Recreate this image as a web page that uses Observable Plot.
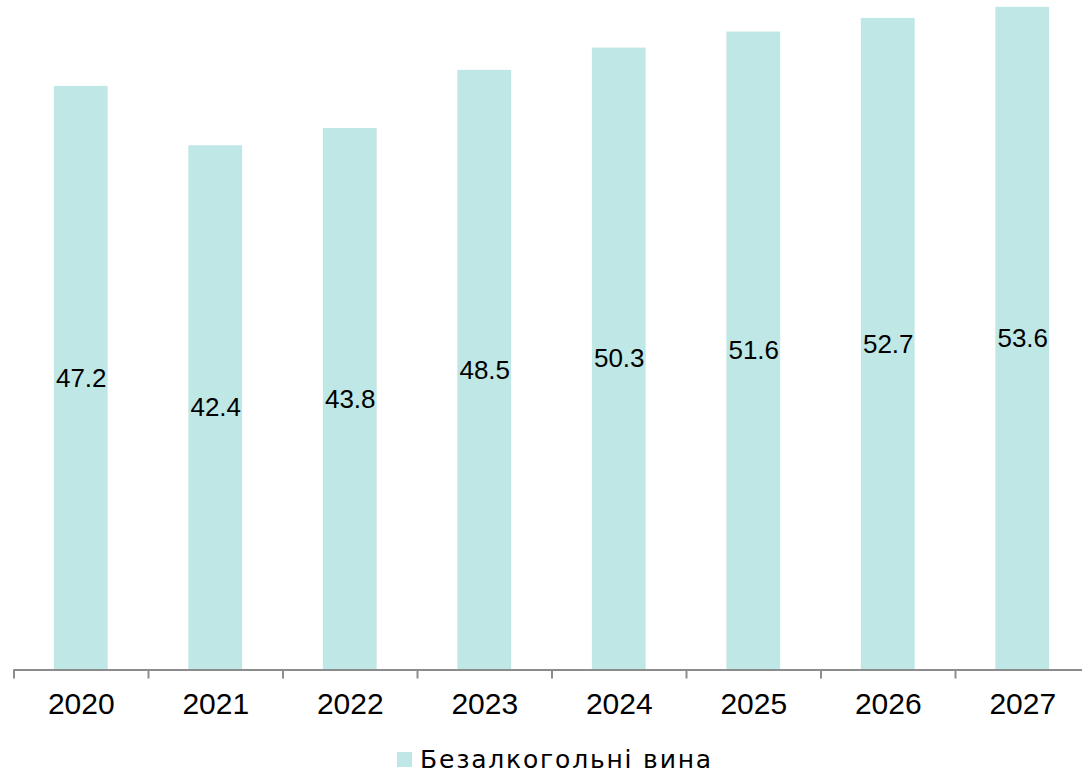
<!DOCTYPE html>
<html>
<head>
<meta charset="utf-8">
<script src="https://cdn.jsdelivr.net/npm/d3@7"></script>
<script src="https://cdn.jsdelivr.net/npm/@observablehq/plot@0.6"></script>
<style>
  html, body { margin: 0; padding: 0; background: #fff; }
  body { width: 1082px; height: 774px; overflow: hidden; font-family: "Liberation Sans", Arial, sans-serif; }
  #legend { height: 48px; display: flex; align-items: center; padding-left: 397px; color: #111; }
  #legend .sw { width: 15px; height: 15px; background: #bfe7e6; margin-right: 8px; flex: none; }
  #legend .lab { font-family: "DejaVu Sans", sans-serif; font-size: 25px; letter-spacing: 1.8px; white-space: nowrap; color: #000; }
</style>
</head>
<body>
<div id="chart"></div>
<div id="legend"><span class="sw"></span><span class="lab" id="legendLabel"></span></div>
<script>
const years = ["2020", "2021", "2022", "2023", "2024", "2025", "2026", "2027"];
const values = [47.2, 42.4, 43.8, 48.5, 50.3, 51.6, 52.7, 53.6];
const seriesName = "Безалкогольні вина";

const data = years.map((y, i) => ({year: y, value: values[i]}));
document.getElementById("legendLabel").textContent = seriesName;

const W = 1082, H = 735;
const xRange = [13.5, 1089.5];
const step = (xRange[1] - xRange[0]) / years.length;
const barColor = "#bfe7e6";
const axisColor = "#8c8c8c";

const chart = Plot.plot({
  width: W,
  height: H,
  marginTop: 0,
  marginLeft: 13.5,
  marginRight: 0,
  marginBottom: 65.5,
  style: {fontFamily: "'Liberation Sans', Arial, sans-serif", background: "#fff", overflow: "visible"},
  x: {domain: years, range: xRange, paddingInner: 0.6, paddingOuter: 0.3, round: false, label: null},
  y: {domain: [0, 54.15], axis: null},
  marks: [
    Plot.barY(data, {x: "year", y: "value", fill: barColor}),
    Plot.text(data, {x: "year", y: d => d.value / 2, text: d => d.value.toFixed(1), fill: "#000", fontSize: 26}),
    Plot.ruleY([0], {stroke: axisColor, strokeWidth: 2}),
    Plot.axisX({tickSize: 9, tickFormat: () => "", stroke: axisColor, strokeWidth: 2, dx: -step / 2, strokeOpacity: 1}),
    Plot.axisX({tickSize: 0, tickPadding: 23, fontSize: 30, fill: "#000", label: null})
  ]
});
document.getElementById("chart").appendChild(chart);
</script>
</body>
</html>
